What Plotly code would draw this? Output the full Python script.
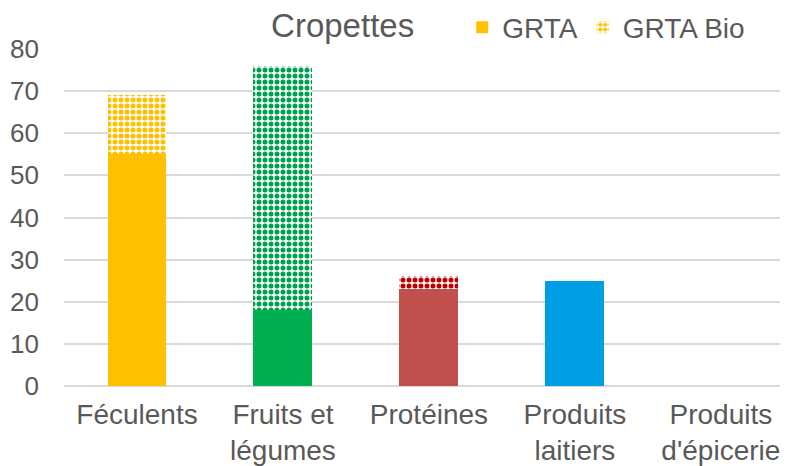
import plotly.graph_objects as go

categories = ["Féculents", "Fruits et<br>légumes", "Protéines", "Produits<br>laitiers", "Produits<br>d'épicerie"]
grta = [55, 18, 23, 25, 0]
grta_bio = [14, 58, 3, 0, 0]
solid_colors = ["#FFC000", "#00B050", "#C0504D", "#009FE3", "#7F7F7F"]
bio_colors = ["#FFC000", "#00A050", "#C00000", "#009FE3", "#7F7F7F"]
y_ticks = [0, 10, 20, 30, 40, 50, 60, 70, 80]

TXT = "#595959"
FONT = "Liberation Sans, Arial, sans-serif"

fig = go.Figure()
fig.add_trace(go.Bar(
    x=categories, y=grta, name="GRTA",
    marker=dict(color=solid_colors, line=dict(width=0)),
    width=0.404,
))
fig.add_trace(go.Bar(
    x=categories, y=grta_bio, name="GRTA Bio",
    marker=dict(
        color="white",
        line=dict(width=0),
        pattern=dict(shape=".", fgcolor=bio_colors, bgcolor="white",
                     size=6, solidity=0.55, fillmode="replace"),
    ),
    width=0.404,
))

# page body has an 8px margin: figure sized/placed to compensate
fig.update_layout(
    barmode="stack",
    width=780, height=458,
    margin=dict(l=56, r=0, t=41, b=80, autoexpand=False),
    paper_bgcolor="white", plot_bgcolor="white",
    font=dict(family=FONT, color=TXT, size=26),
    title=dict(text="Cropettes", x=0.429, xanchor="center", y=0.962, yanchor="middle",
               font=dict(size=33, color=TXT, family=FONT)),
    legend=dict(orientation="h", x=0.55, xanchor="left", y=1.064, yanchor="middle",
                font=dict(size=28, color=TXT, family=FONT),
                itemwidth=30,
                traceorder="normal", bgcolor="rgba(0,0,0,0)"),
    showlegend=True,
)
fig.update_xaxes(range=[-0.5, 4.46], showline=False, ticks="", ticklabelstandoff=9,
                 tickfont=dict(size=28, color=TXT))
fig.update_yaxes(range=[0, 80], tickvals=y_ticks, showgrid=True, gridcolor="#D9D9D9", gridwidth=1.5,
                 zeroline=True, zerolinecolor="#D9D9D9", zerolinewidth=1.5,
                 ticks="", ticklabelstandoff=24, tickfont=dict(size=26, color=TXT))

fig.write_html("out.html")
